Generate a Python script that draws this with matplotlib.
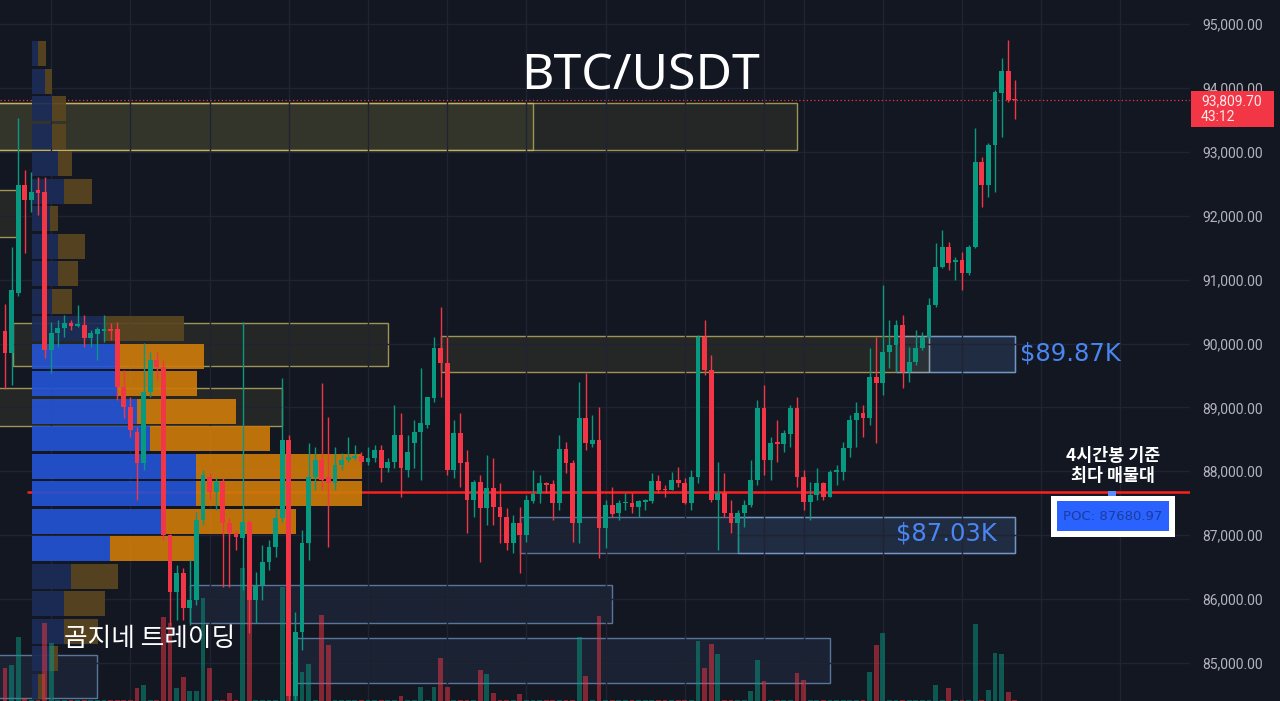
import matplotlib
matplotlib.use("Agg")
import matplotlib.pyplot as plt
from matplotlib.patches import Rectangle

# -----------------------------
# 4h candles (BTC/USDT)
# -----------------------------
opens = [
    90200, 89850, 90790, 92480, 92250, 92400, 92370, 89900, 90160, 90240,
    90320, 90270, 90290, 90090, 90150, 90200, 90230, 90230, 89320, 89010,
    88620, 88130, 89240, 89740, 89630, 87000, 86110, 86410, 85860, 85990,
    87240, 87910, 87680, 87830, 87190, 87030, 86960, 87210, 85990, 86220,
    86580, 86820, 87270, 88490, 84480, 85490, 86880, 87910, 88180, 87910,
    87820, 88100, 88180, 88210, 88240, 88150, 88210, 88330, 88050, 88150,
    88570, 88020, 88440, 88620, 88730, 89150, 89930, 89700, 88020, 88600,
    88150, 87550, 87830, 87430, 87740, 87440, 87290, 86880, 87190, 87000,
    87540, 87650, 87820, 87800, 87500, 88350, 88130, 87190, 88830, 88430,
    88490, 87110, 87470, 87350, 87500, 87500, 87440, 87520, 87540, 87850,
    87720, 87710, 87860, 87820, 87500, 87910, 90100, 89590, 87550, 87660,
    87350, 87190, 87350, 87470, 87860, 88990, 88180, 88460, 88430, 88580,
    88990, 87910, 87520, 87630, 87820, 87600, 87990, 87990, 88370, 88800,
    88910, 88830, 89480, 89380, 89870, 89980, 90290, 89550, 89710, 89930,
    90100, 90600, 91200, 91510, 91280, 91310, 91100, 91510, 92840, 92480,
    93110, 93920, 94270, 93830,
]
highs = [
    90620, 91510, 93530, 92720, 92680, 92610, 92610, 90340, 90370, 90450,
    90370, 90600, 90450, 90210, 90260, 90450, 90320, 90340, 89590, 89160,
    88690, 90010, 89870, 89870, 89740, 87020, 86530, 86490, 86610, 87360,
    88020, 87970, 87900, 87900, 87270, 87080, 90340, 87240, 86420, 86850,
    86930, 87430, 89460, 88570, 85800, 87080, 88440, 88380, 89380, 88850,
    88380, 88290, 88540, 88410, 88300, 88380, 88410, 88410, 88210, 89040,
    88910, 88570, 88800, 89620, 89160, 90100, 90570, 90100, 88800, 88910,
    88330, 87860, 87940, 88260, 88210, 87820, 87430, 87320, 87440, 87630,
    88020, 87940, 87830, 87860, 88570, 88460, 88180, 89400, 89540, 88880,
    89010, 87550, 87760, 87550, 87660, 87660, 87550, 87570, 87970, 87940,
    87790, 87990, 88070, 87900, 88020, 90130, 90370, 89820, 88150, 87970,
    87550, 87400, 87550, 88180, 89120, 89350, 88540, 88800, 88650, 89040,
    89160, 88020, 87830, 88050, 87830, 88020, 88100, 88460, 88880, 89090,
    89040, 89930, 90100, 90920, 90370, 90370, 90450, 89950, 90210, 90180,
    90710, 91570, 91780, 91590, 91350, 91430, 91540, 93370, 92920, 93140,
    93970, 94470, 94750, 94120,
]
lows = [
    89290, 89350, 90740, 91420, 92060, 92010, 89770, 89540, 89950, 90100,
    90210, 90260, 89950, 89950, 89740, 90020, 90060, 89120, 88830, 88540,
    87550, 88020, 89160, 89430, 86930, 85600, 85670, 85670, 85600, 85910,
    87160, 87550, 87400, 86190, 86190, 86770, 86140, 85470, 85630, 85990,
    86460, 86660, 87210, 84420, 84420, 85200, 86610, 87710, 87710, 86820,
    87710, 88020, 88150, 88180, 88100, 88100, 88150, 87830, 87990, 88050,
    87600, 87910, 88050, 87860, 88680, 89090, 89160, 87940, 87900, 87760,
    87040, 87290, 86580, 87160, 87160, 86880, 86770, 86720, 86410, 86890,
    87500, 87500, 87660, 87240, 87400, 87970, 86890, 86880, 88330, 88380,
    86640, 86800, 87290, 87240, 87400, 87350, 87290, 87400, 87500, 87660,
    87600, 87700, 87760, 87490, 87400, 87820, 89510, 87520, 86770, 87290,
    87040, 86740, 87130, 87440, 87790, 87940, 87860, 88150, 88300, 88380,
    87760, 87400, 87240, 87550, 87550, 87590, 87790, 87860, 88220, 88380,
    88540, 88730, 88440, 89190, 89620, 89550, 89300, 89400, 89660, 89900,
    90090, 90570, 91180, 91150, 90990, 90840, 91070, 91490, 92140, 92290,
    92370, 93230, 93780, 93510,
]
closes = [
    89850, 90840, 92480, 92250, 92370, 92360, 89900, 90160, 90240, 90320,
    90270, 90310, 90090, 90160, 90230, 90230, 90200, 89320, 89010, 88650,
    88130, 89240, 89740, 89630, 87000, 86110, 86410, 85860, 85990, 87240,
    87940, 87680, 87830, 87190, 87030, 86970, 87210, 85990, 86220, 86580,
    86820, 87270, 88490, 84480, 85490, 86880, 87910, 88180, 87860, 87820,
    88100, 88180, 88220, 88240, 88150, 88210, 88330, 88050, 88150, 88570,
    88050, 88300, 88620, 88760, 89160, 89930, 89700, 88020, 88600, 88130,
    87550, 87830, 87430, 87740, 87440, 87290, 86880, 87190, 87000, 87550,
    87650, 87820, 87790, 87500, 88350, 88130, 87190, 88830, 88440, 88490,
    87110, 87470, 87330, 87500, 87520, 87440, 87540, 87550, 87850, 87710,
    87710, 87860, 87820, 87500, 87910, 90100, 89590, 87550, 87660, 87350,
    87190, 87350, 87470, 87860, 88990, 88180, 88440, 88430, 88600, 88990,
    87910, 87520, 87630, 87820, 87600, 87990, 88020, 88370, 88800, 88910,
    88830, 89480, 89380, 89870, 89980, 90290, 89550, 89710, 89930, 90100,
    90600, 91200, 91510, 91260, 91310, 91100, 91510, 92840, 92480, 93110,
    93940, 94270, 93810, 93809.70,
]
volumes = [
    1320, 1440, 2560, 120, 40, 40, 3120, 2320, 40, 40,
    40, 40, 40, 40, 40, 40, 40, 40, 40, 40,
    520, 640, 40, 40, 3360, 3120, 520, 960, 400, 400,
    4120, 1320, 40, 40, 320, 40, 5320, 4040, 40, 40,
    40, 40, 4560, 5600, 2760, 1160, 1480, 40, 3440, 2240,
    40, 40, 40, 40, 40, 40, 40, 40, 40, 40,
    200, 40, 40, 560, 40, 560, 1720, 560, 40, 40,
    40, 40, 1240, 1080, 320, 40, 40, 40, 280, 40,
    40, 40, 40, 40, 40, 40, 40, 2560, 1000, 40,
    3400, 40, 40, 40, 40, 40, 40, 40, 40, 40,
    40, 40, 40, 40, 40, 2400, 1320, 2280, 1880, 40,
    40, 40, 40, 400, 1640, 800, 40, 40, 40, 40,
    1120, 840, 40, 40, 40, 40, 40, 40, 40, 40,
    40, 1160, 2240, 2720, 40, 40, 40, 40, 40, 40,
    40, 640, 40, 520, 40, 40, 40, 3080, 40, 440,
    1920, 1880, 360, 40,
]

# -----------------------------
# Volume profile (bottom -> top rows)
# -----------------------------
prof_low = 84420
prof_high = 94750
prof_up = [600, 1800, 3200, 3200, 3900, 7800, 13400, 16400, 16400, 11800,
           10500, 8500, 8800, 7300, 2000, 2600, 2600, 1800, 3200, 2600,
           2000, 2000, 1300, 600]
prof_down = [700, 800, 3400, 4100, 4700, 8400, 13000, 16600, 16600, 12000,
             9900, 8000, 8400, 7900, 2000, 2000, 2700, 800, 2800, 1400,
             1400, 1400, 700, 800]
value_area = [False] * 5 + [True] * 8 + [False] * 11
poc_price = 87680.97

# -----------------------------
# Zones (candle index range, price range)
# -----------------------------
zone_start = [-1, -1, 1.2, -1, -1, 66, 135, 140, 78, 111, 28, 44, -1]
zone_end = [80, 120, 58, 1.8, 42, 140, 153, 153, 153, 153, 92, 125, 14]
zone_low = [93030, 93030, 89650, 91670, 88710, 89560, 89560, 89560,
            86720, 86720, 85630, 84690, 84450]
zone_high = [93760, 93760, 90320, 92400, 89300, 90120, 90120, 90120,
             87280, 87280, 86220, 85390, 85130]
zone_kind = ["s", "s", "s", "s", "s", "s", "d", "d", "d", "d", "d", "d", "d"]

grid_idx = [7, 19, 31, 43, 55, 67, 79, 91, 103, 115, 121, 133, 145, 157, 169]

# -----------------------------
# Style
# -----------------------------
BG = "#131722"
UP = "#089981"
DN = "#f23645"

plt.rcParams['font.family'] = ['Noto Sans', 'Noto Sans CJK KR', 'DejaVu Sans']

fig = plt.figure(figsize=(12.8, 7.01), dpi=100, facecolor=BG)
W = 1190 / 1280
x_lo, x_hi = -0.76, 179.55
y_lo, y_hi = 84405, 95376

# base axes: grid, zones, lines, price scale
ax = fig.add_axes([0, 0, W, 1], zorder=0)
ax.set_facecolor(BG)
ax.set_xlim(x_lo, x_hi)
ax.set_ylim(y_lo, y_hi)
for s in ax.spines.values():
    s.set_visible(False)
ax.set_yticks(range(85000, 96000, 1000))
ax.yaxis.set_major_formatter(matplotlib.ticker.StrMethodFormatter("{x:,.2f}"))
ax.yaxis.tick_right()
ax.tick_params(axis="y", length=0, pad=9, labelsize=10, labelcolor="#b2b5be")
ax.set_xticks(grid_idx)
ax.tick_params(axis="x", length=0, labelbottom=False)
ax.grid(True, color="#1f2332", lw=1)
for lab in ax.get_yticklabels():
    lab.set_family("Roboto")

for x0, x1, lo, hi, k in zip(zone_start, zone_end, zone_low, zone_high, zone_kind):
    if k == "s":
        fc, ec = (0.62, 0.58, 0.28, 0.13), (0.80, 0.74, 0.40, 0.75)
    else:
        fc, ec = (0.35, 0.55, 0.80, 0.10), (0.50, 0.65, 0.85, 0.65)
    ax.add_patch(Rectangle((x0, lo), x1 - x0, hi - lo, fc=fc, ec=ec, lw=1))

ax.hlines(poc_price, 3.3, x_hi, color="#ff1f1f", lw=1.8)
ax.axhline(closes[-1], color=DN, lw=0.9, ls=(0, (1, 2)))

# volume profile axes
axp = fig.add_axes([0, 0, W, 1], zorder=1)
axp.patch.set_alpha(0)
axp.axis("off")
axp.set_xlim(-3200, 115800)
axp.set_ylim(y_lo, y_hi)
row_h = (prof_high - prof_low) / len(prof_up)
row_y = [prof_low + row_h * (k + 0.5) for k in range(len(prof_up))]
c_up = ["#2453d4" if v else "#1c2c58" for v in value_area]
c_dn = ["#cc7a0a" if v else "#5a4520" for v in value_area]
axp.barh(row_y, prof_up, height=row_h * 0.9, color=c_up, alpha=0.92)
axp.barh(row_y, prof_down, left=prof_up, height=row_h * 0.9, color=c_dn, alpha=0.92)

# volume bars
idx = list(range(len(closes)))
colors = [UP if c >= o else DN for o, c in zip(opens, closes)]
axv = fig.add_axes([0, 0, W, 1], zorder=2)
axv.patch.set_alpha(0)
axv.axis("off")
axv.set_xlim(x_lo, x_hi)
axv.set_ylim(0, 28040)
axv.bar(idx, volumes, width=0.75, color=colors, alpha=0.5)

# candles
axc = fig.add_axes([0, 0, W, 1], zorder=3)
axc.patch.set_alpha(0)
axc.axis("off")
axc.set_xlim(x_lo, x_hi)
axc.set_ylim(y_lo, y_hi)
axc.vlines(idx, lows, highs, colors=colors, lw=1)
bottoms = [min(o, c) for o, c in zip(opens, closes)]
heights = [max(abs(c - o), 14) for o, c in zip(opens, closes)]
axc.bar(idx, heights, bottom=bottoms, width=0.74, color=colors)

# -----------------------------
# Annotations (pixel overlay)
# -----------------------------
ov = fig.add_axes([0, 0, 1, 1], zorder=4)
ov.patch.set_alpha(0)
ov.axis("off")
ov.set_xlim(0, 1280)
ov.set_ylim(701, 0)

ov.text(640, 77, "BTC/USDT", ha="center", va="center", fontsize=36,
        color="white", family="Noto Sans")
ov.text(150, 639, "곰지네 트레이딩", ha="center", va="center", fontsize=18.5,
        color="white", family="Noto Sans CJK KR", fontweight="medium")
ov.text(1113, 466, "4시간봉 기준\n최다 매물대", ha="center", va="center",
        fontsize=12.5, fontweight="bold", color="white",
        family="Noto Sans CJK KR", linespacing=1.15)

ov.add_patch(Rectangle((1051, 496), 124, 41, fc="white", ec="none"))
ov.add_patch(Rectangle((1057, 501), 112, 30, fc="#2962ff", ec="none"))
ov.add_patch(Rectangle((1108, 491), 8, 5, fc="#5b8cff", ec="none"))
ov.text(1113, 517, "POC: 87680.97", ha="center", va="center", fontsize=9.5,
        color="#1d3c9e", family="DejaVu Sans")

ov.text(1020, 354, "$89.87K", ha="left", va="center", fontsize=17.5,
        color="#4a86f2", family="DejaVu Sans")
ov.text(997, 533, "$87.03K", ha="right", va="center", fontsize=17.5,
        color="#4a86f2", family="DejaVu Sans")

ov.add_patch(Rectangle((1191, 91), 83, 36, fc=DN, ec="none"))
ov.text(1201, 101, f"{closes[-1]:,.2f}", ha="left", va="center", fontsize=10,
        color="#ffe8ea", family="Roboto")
ov.text(1201, 117, "43:12", ha="left", va="center", fontsize=10,
        color="#ffe8ea", family="Roboto")

fig.savefig("out.png", dpi=100, facecolor=BG)
